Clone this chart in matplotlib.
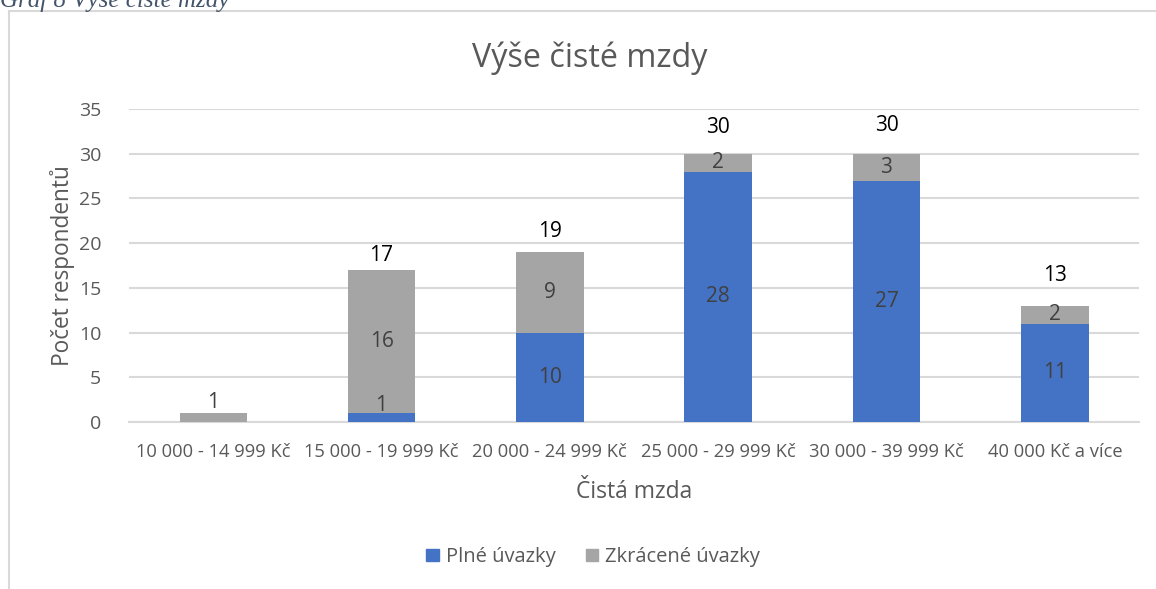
import numpy as np
import matplotlib
matplotlib.use("Agg")
import matplotlib.pyplot as plt
from matplotlib.lines import Line2D

plt.rcParams['font.family'] = ['Open Sans', 'DejaVu Sans']

# Data
categories = ["10 000 - 14 999 Kč", "15 000 - 19 999 Kč", "20 000 - 24 999 Kč",
              "25 000 - 29 999 Kč", "30 000 - 39 999 Kč", "40 000 Kč a více"]
plne = [0, 1, 10, 28, 27, 11]
zkracene = [1, 16, 9, 2, 3, 2]
totals = [None, 17, 19, 30, 30, 13]
yticks = [0, 5, 10, 15, 20, 25, 30, 35]

# label placement (data units above the bar top)
total_offset = [0, 1.6, 2.25, 2.9, 3.2, 3.4]

BLUE = "#4472C4"
GRAY = "#A5A5A5"
GRID = "#D9D9D9"
TXT = "#595959"

fig = plt.figure(figsize=(11.56, 5.89), dpi=100)
ax = fig.add_axes([129/1156, 1 - 422/589, (1139 - 129)/1156, (422 - 109)/589])

x = np.arange(len(categories))
w = 0.4
ax.bar(x, plne, w, color=BLUE, zorder=3, label="Plné úvazky")
ax.bar(x, zkracene, w, bottom=plne, color=GRAY, zorder=3, label="Zkrácené úvazky")

for i in range(len(categories)):
    if plne[i] > 0:
        ax.text(x[i], max(plne[i] / 2, 1.9), str(plne[i]), ha='center', va='center',
                fontsize=15, color="#404040", zorder=4)
    if zkracene[i] > 0:
        ax.text(x[i], max(plne[i] + zkracene[i] / 2, 2.2), str(zkracene[i]), ha='center',
                va='center', fontsize=15, color="#404040", zorder=4)
    if totals[i] is not None:
        ax.text(x[i], totals[i] + total_offset[i], str(totals[i]), ha='center', va='center',
                fontsize=15, color="black", zorder=4)

ax.set_xlim(-0.5, len(categories) - 0.5)
ax.set_ylim(0, 35)
ax.set_yticks(yticks)
ax.set_xticks(x)
ax.set_xticklabels(categories)
ax.yaxis.grid(True, color=GRID, linewidth=1.5, zorder=0)
for s in ['top', 'right', 'left']:
    ax.spines[s].set_visible(False)
ax.spines['bottom'].set_color(GRID)
ax.spines['bottom'].set_linewidth(1.5)
ax.spines['bottom'].set_zorder(2)
ax.tick_params(axis='y', length=0, colors=TXT, labelsize=14, pad=20)
ax.tick_params(axis='x', length=0, colors=TXT, labelsize=13.2, pad=15)
ax.set_ylabel("Počet respondentů", fontsize=16.3, color=TXT, labelpad=3)
ax.set_xlabel("Čistá mzda", fontsize=16.5, color=TXT, labelpad=14)

fig.text(590/1156, 1 - 58/589, "Výše čisté mzdy", ha='center', va='center',
         fontsize=23.3, color=TXT)

leg = fig.legend(handles=[plt.Rectangle((0, 0), 1, 1, color=BLUE),
                          plt.Rectangle((0, 0), 1, 1, color=GRAY)],
                 labels=["Plné úvazky", "Zkrácené úvazky"],
                 loc='center', bbox_to_anchor=(593/1156, 1 - 557/589), ncol=2,
                 frameon=False, fontsize=14.5, handlelength=0.6, handleheight=0.6,
                 handletextpad=0.35, columnspacing=1.5)
for t in leg.get_texts():
    t.set_color(TXT)

# chart frame
fig.add_artist(Line2D([9/1156, 1], [1 - 11/589, 1 - 11/589], color=GRID, linewidth=1.5))
fig.add_artist(Line2D([9/1156, 9/1156], [0, 1 - 11/589], color=GRID, linewidth=1.5))

# caption cut off at the top
fig.text(0, 1 - 7/589, "Graf 8 Výše čisté mzdy", ha='left', va='baseline',
         fontsize=18, color="#44546A", family='Liberation Serif', style='italic')

fig.savefig("out.png", dpi=100)
